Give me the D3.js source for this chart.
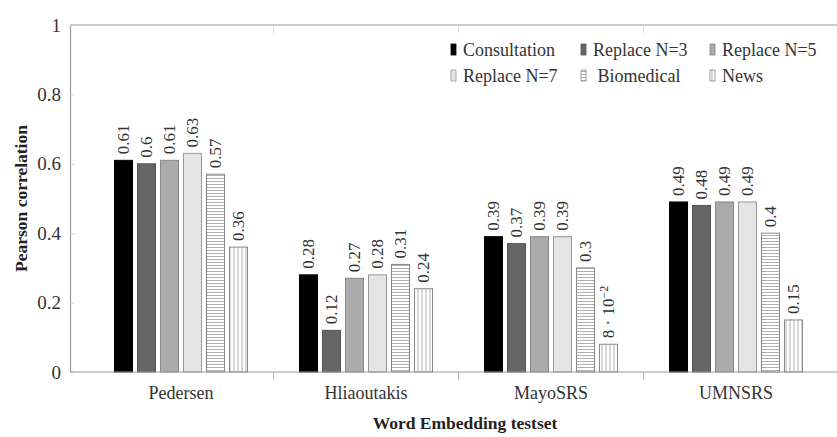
<!DOCTYPE html>
<html>
<head>
<meta charset="utf-8">
<script src="https://cdn.jsdelivr.net/npm/d3@7"></script>
<style>
  body { margin: 0; background: #fff; }
  svg, svg text { font-family: "Liberation Serif", "Times New Roman", Times, serif !important; }
</style>
</head>
<body>
<div class="chart"></div>
<script>
// data
const testsets = ["Pedersen", "Hliaoutakis", "MayoSRS", "UMNSRS"];
const seriesNames = ["Consultation", "Replace N=3", "Replace N=5", "Replace N=7", "Biomedical", "News"];
const consultation = [0.61, 0.28, 0.39, 0.49];
const replace3 = [0.6, 0.12, 0.37, 0.48];
const replace5 = [0.61, 0.27, 0.39, 0.49];
const replace7 = [0.63, 0.28, 0.39, 0.49];
const biomedical = [0.57, 0.31, 0.3, 0.4];
const news = [0.36, 0.24, 0.08, 0.15];
const yTicks = [0, 0.2, 0.4, 0.6, 0.8, 1];

const seriesValues = [consultation, replace3, replace5, replace7, biomedical, news];

// sizes
const width = 837, height = 437;
const margin = ({top: 25, right: -8, bottom: 65, left: 70});

const svg = d3.select(".chart")
    .append("svg")
    .attr("width", width)
    .attr("height", height);

const defs = svg.append("defs");

// horizontal lines pattern
const hp = defs.append("pattern")
    .attr("id", "hlines")
    .attr("patternUnits", "userSpaceOnUse")
    .attr("width", 6).attr("height", 3);
hp.append("rect").attr("width", 6).attr("height", 3).attr("fill", "#fff");
hp.append("line").attr("x1", 0).attr("x2", 6).attr("y1", 1.5).attr("y2", 1.5)
    .attr("stroke", "#9a9a9a").attr("stroke-width", 0.8);

// vertical lines pattern
const vp = defs.append("pattern")
    .attr("id", "vlines")
    .attr("patternUnits", "userSpaceOnUse")
    .attr("width", 4).attr("height", 6);
vp.append("rect").attr("width", 4).attr("height", 6).attr("fill", "#fff");
vp.append("line").attr("x1", 2).attr("x2", 2).attr("y1", 0).attr("y2", 6)
    .attr("stroke", "#9a9a9a").attr("stroke-width", 0.8);

const fills = ["#000", "#666", "#ababab", "#e4e4e4", "url(#hlines)", "url(#vlines)"];
const strokes = ["#000", "#555", "#888", "#999", "#888", "#888"];

// scales
const x0 = margin.left, x1 = width - margin.right;
const y0 = height - margin.bottom, y1 = margin.top;

const xScale = d3.scaleBand()
    .domain(testsets)
    .range([88.5, 828.5]);

const xInner = d3.scaleBand()
    .domain(seriesNames)
    .range([-66.5, 66.5])
    .paddingInner(5 / 23);

const yScale = d3.scaleLinear()
    .domain([0, 1])
    .range([y0, y1]);

// frame lines
svg.append("line")
    .attr("x1", x0).attr("x2", x1).attr("y1", y1).attr("y2", y1)
    .attr("stroke", "#999").attr("stroke-width", 1.2);

// y axis
const yAxis = d3.axisLeft(yScale)
    .tickValues(yTicks)
    .tickFormat(d => d === 0 || d === 1 ? d3.format("d")(d) : d3.format(".1f")(d))
    .tickSize(-4)
    .tickPadding(9);

svg.append("g")
    .attr("class", "axis y-axis")
    .attr("transform", `translate(${x0},0)`)
    .call(yAxis)
    .attr("font-family", null)
    .call(g => g.select(".domain").attr("stroke", "#999").attr("stroke-width", 1.2))
    .call(g => g.selectAll(".tick line").attr("stroke", "#ccc"))
    .call(g => g.selectAll(".tick text")
        .attr("font-size", 19).attr("fill", "#333"));

// x axis
const xAxis = d3.axisBottom(xScale).tickSize(0).tickPadding(14);

svg.append("g")
    .attr("class", "axis x-axis")
    .attr("transform", `translate(0,${y0})`)
    .call(xAxis)
    .attr("font-family", null)
    .call(g => g.select(".domain").remove())
    .call(g => g.selectAll(".tick text")
        .attr("font-size", 18).attr("fill", "#333"));

// group separator ticks (bottom and top)
const seps = testsets.slice(1).map(d => xScale(d));
svg.append("g")
    .selectAll("line")
    .data(seps)
    .join("line")
    .attr("x1", d => d).attr("x2", d => d)
    .attr("y1", y0).attr("y2", y0 + 8)
    .attr("stroke", "#bbb");
svg.append("g")
    .selectAll("line")
    .data(seps)
    .join("line")
    .attr("x1", d => d).attr("x2", d => d)
    .attr("y1", y1).attr("y2", y1 + 8)
    .attr("stroke", "#ddd");

// bars
const cells = [];
testsets.forEach((t, i) => {
    seriesNames.forEach((s, j) => {
        cells.push({testset: t, series: s, j: j, value: seriesValues[j][i]});
    });
});

svg.append("g")
    .selectAll("rect")
    .data(cells)
    .join("rect")
    .attr("x", d => xScale(d.testset) + xScale.bandwidth() / 2 + xInner(d.series))
    .attr("y", d => yScale(d.value))
    .attr("width", xInner.bandwidth())
    .attr("height", d => y0 - yScale(d.value))
    .attr("fill", d => fills[d.j])
    .attr("stroke", d => strokes[d.j])
    .attr("stroke-width", 1);

// bottom axis line over the bars
svg.append("line")
    .attr("x1", x0).attr("x2", x1).attr("y1", y0).attr("y2", y0)
    .attr("stroke", "#999").attr("stroke-width", 1.2);

// value labels, rotated
const labels = svg.append("g")
    .attr("font-size", 17)
    .attr("fill", "#333")
    .selectAll("text")
    .data(cells)
    .join("text")
    .attr("transform", d => {
        const cx = xScale(d.testset) + xScale.bandwidth() / 2 + xInner(d.series) + xInner.bandwidth() / 2;
        return `translate(${cx + 5.5},${yScale(d.value) - 6}) rotate(-90)`;
    })
    .attr("text-anchor", "start");

labels.each(function(d) {
    const t = d3.select(this);
    if (d.value < 0.1) {
        t.append("tspan").text("8 · 10");
        t.append("tspan").text("−2").attr("dy", -6).attr("font-size", 12);
    } else {
        t.text(d3.format("")(d.value));
    }
});

// axis titles
svg.append("text")
    .attr("x", 465)
    .attr("y", 429)
    .attr("text-anchor", "middle")
    .attr("font-weight", "bold")
    .attr("font-size", 17.5)
    .attr("fill", "#222")
    .text("Word Embedding testset");

svg.append("text")
    .attr("transform", `translate(27,${(y0 + y1) / 2}) rotate(-90)`)
    .attr("text-anchor", "middle")
    .attr("font-weight", "bold")
    .attr("font-size", 17.5)
    .attr("fill", "#222")
    .text("Pearson correlation");

// legend
const legendPos = [
    [451, 56], [581, 56], [710, 56],
    [451, 82], [581, 82], [710, 82]
];
const legendText = ["Consultation", "Replace N=3", "Replace N=5", "Replace N=7", " Biomedical", "News"];

const legend = svg.append("g")
    .selectAll("g")
    .data(seriesNames)
    .join("g")
    .attr("transform", (d, i) => `translate(${legendPos[i][0]},${legendPos[i][1]})`);

legend.append("rect")
    .attr("x", 0).attr("y", -12)
    .attr("width", 5).attr("height", 11)
    .attr("fill", (d, i) => fills[i])
    .attr("stroke", (d, i) => strokes[i])
    .attr("stroke-width", 0.8);

legend.append("text")
    .attr("x", 12)
    .attr("y", 0)
    .attr("font-size", 18)
    .attr("fill", "#333")
    .attr("xml:space", "preserve")
    .style("white-space", "pre")
    .text((d, i) => legendText[i]);
</script>
</body>
</html>
